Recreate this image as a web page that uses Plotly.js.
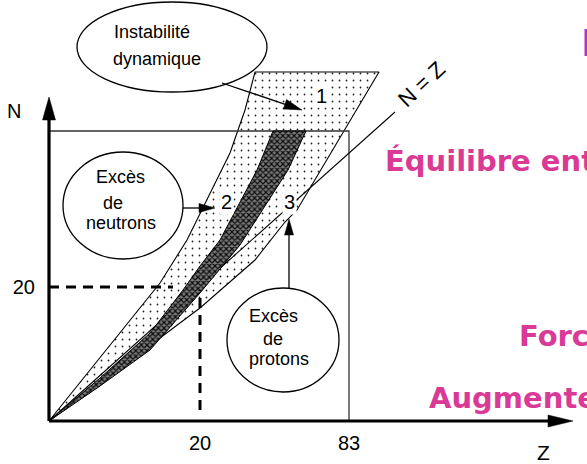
<!DOCTYPE html>
<html><head><meta charset="utf-8">
<script src="https://cdn.plot.ly/plotly-3.0.1.min.js"></script>
<style>html,body{margin:0;padding:0;overflow:hidden;background:#fff}#chart{width:587px;height:464px}</style>
</head><body><div id="chart"></div>
<script>
// ---- Schematic diagram values (Z along x, N along y, diagram units) ----
// Outer (dotted) region: limits of existence of nuclei
const outerZ = [0, 41, 81, 111, 138, 173, 181, 196, 206, 330, 284, 248, 236, 206, 151, 0];
const outerN = [0, 51, 101, 138, 181, 251, 268, 311, 349, 349, 271, 211, 199, 161, 113, 0];
// Valley of stability (dark band)
const stableZ = [0, 51, 101, 134, 151, 171, 208, 224, 257, 239, 191, 151, 101, 51, 0];
const stableN = [0, 43, 88, 131, 155, 181, 251, 290, 290, 251, 176, 128, 71, 35, 0];
// N = Z line
const nzZ = [0, 346];
const nzN = [0, 309];
// Frame Z = 83 / top limit
const boxZ = [0, 300, 300];
const boxN = [290, 290, 0];
// Reference dashed lines (Z = 20, N = 20)
const refHZ = [0, 124], refHN = [134, 134];
const refVZ = [151, 151], refVN = [11, 131];
// Tick labels
const zTickVals = [151, 300], zTickText = ['20', '83'];
const nTickVals = [134], nTickText = ['20'];

// pixel -> data helper for decorations
const OX = 49, OY = 421;
function P(px, py) { return {x: px - OX, y: OY - py}; }

const shapes = [];
function arrow(x0, y0, x1, y1, len, w, lw) {
  const a = P(x0, y0), b = P(x1, y1);
  const dx = b.x - a.x, dy = b.y - a.y, L = Math.hypot(dx, dy);
  const ux = dx / L, uy = dy / L, nx = -uy, ny = ux;
  const bx = b.x - ux * len, by = b.y - uy * len;
  shapes.push({type: 'line', xref: 'x', yref: 'y', x0: a.x, y0: a.y, x1: bx + ux, y1: by + uy, line: {color: '#000', width: lw}});
  shapes.push({type: 'path', xref: 'x', yref: 'y',
    path: `M${b.x},${b.y} L${bx + nx * w / 2},${by + ny * w / 2} L${bx - nx * w / 2},${by - ny * w / 2} Z`,
    fillcolor: '#000', line: {color: '#000', width: 0.5}});
}
function ellipse(x0, y0, x1, y1) {
  const a = P(x0, y0), b = P(x1, y1);
  shapes.push({type: 'circle', xref: 'x', yref: 'y', x0: a.x, y0: b.y, x1: b.x, y1: a.y,
    line: {color: '#000', width: 1.3}, fillcolor: 'rgba(0,0,0,0)'});
}
// axes arrows
arrow(49, 421, 49, 97, 23, 13, 3.2);
arrow(49, 421, 573, 421, 25, 12, 3.2);
// ellipses
ellipse(77, 2, 267, 92);
ellipse(63, 152, 183, 259);
ellipse(227, 288, 339, 392);
// annotation arrows
arrow(222, 83, 302, 110, 18, 10, 1.3);
arrow(183, 208, 215, 208, 16, 9, 1.3);
arrow(289, 289, 289, 219, 16, 9, 1.3);

const traces = [
  {x: outerZ, y: outerN, mode: 'lines', fill: 'toself', fillcolor: '#fff',
   fillpattern: {shape: '.', fgcolor: '#222', bgcolor: '#fff', size: 7, solidity: 0.05},
   line: {color: '#000', width: 1.1}, hoverinfo: 'skip'},
  {x: boxZ, y: boxN, mode: 'lines', line: {color: '#333', width: 1.3}, hoverinfo: 'skip'},
  {x: nzZ, y: nzN, mode: 'lines', line: {color: '#000', width: 1.1}, hoverinfo: 'skip'},
  {x: stableZ, y: stableN, mode: 'lines', fill: 'toself', fillcolor: '#444',
   fillpattern: {shape: 'x', fgcolor: '#0a0a0a', bgcolor: '#7a7a7a', size: 4, solidity: 0.5},
   line: {color: '#000', width: 1}, hoverinfo: 'skip'},
  {x: refHZ, y: refHN, mode: 'lines', line: {color: '#000', width: 3, dash: '10px,7px'}, hoverinfo: 'skip'},
  {x: refVZ, y: refVN, mode: 'lines', line: {color: '#000', width: 3, dash: '10px,7px'}, hoverinfo: 'skip'}
];

const F = 'Liberation Sans, Arial, sans-serif';
function T(text, px, py, size, extra) {
  const p = P(px, py);
  return Object.assign({x: p.x, y: p.y, xref: 'x', yref: 'y', text: text, showarrow: false,
    font: {family: F, size: size, color: '#000'}, xanchor: 'center', yanchor: 'middle'}, extra || {});
}
const pink = '#d93a96';
const PF = 'DejaVu Sans, Verdana, sans-serif';
const annotations = [
  T('Instabilité', 152, 32, 18), T('dynamique', 157, 59, 18),
  T('Excès', 120, 177, 18), T('de', 113, 203, 18), T('neutrons', 121, 223, 18),
  T('Excès', 273, 316, 18), T('de', 273, 339, 18), T('protons', 279, 359, 18),
  T('1', 321, 96, 20, {bgcolor: '#fff', borderpad: 0}),
  T('2', 226, 202, 20, {bgcolor: '#fff', borderpad: 1}),
  T('3', 289, 202, 20, {bgcolor: '#fff', borderpad: 1}),
  T('N', 14, 111, 20), T('Z', 543, 452, 21),
  T('N = Z', 421, 84, 22, {textangle: -43}),
  T('<b>Équilibre entre</b>', 383, 161, 29, {xanchor: 'left', font: {family: PF, size: 29, color: pink}}),
  T('<b>Force</b>', 517, 336, 29, {xanchor: 'left', font: {family: PF, size: 29, color: pink}}),
  T('<b>Augmente</b>', 427, 398, 29, {xanchor: 'left', font: {family: PF, size: 29, color: pink}}),
  T('<b>La</b>', 579, 43, 38, {xanchor: 'left', font: {family: PF, size: 38, color: '#9b3ddc'}})
];

const layout = {
  width: 587, height: 464, margin: {l: 0, r: 0, t: 0, b: 0},
  paper_bgcolor: '#fff', plot_bgcolor: '#fff', showlegend: false,
  xaxis: {range: [-49, 538], anchor: 'free', position: 43 / 464, showgrid: false, zeroline: false, showline: false,
    tickmode: 'array', tickvals: zTickVals, ticktext: zTickText, ticks: '', ticklabelstandoff: 8,
    tickfont: {family: F, size: 20, color: '#000'}, fixedrange: true},
  yaxis: {range: [-43, 421], anchor: 'free', position: 49 / 587, showgrid: false, zeroline: false, showline: false,
    tickmode: 'array', tickvals: nTickVals, ticktext: nTickText, ticks: '', ticklabelstandoff: 14,
    tickfont: {family: F, size: 20, color: '#000'}, fixedrange: true},
  shapes: shapes, annotations: annotations
};
Plotly.newPlot('chart', traces, layout, {staticPlot: true, displayModeBar: false});
</script></body></html>
